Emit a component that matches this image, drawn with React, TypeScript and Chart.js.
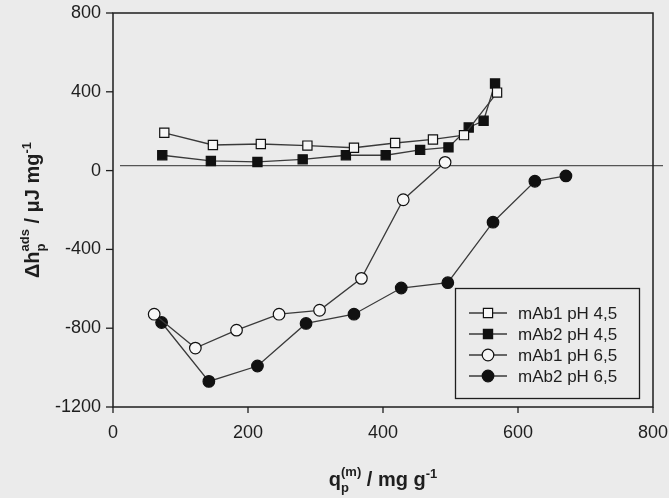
import React, { useEffect, useRef } from "react";
import { Chart, registerables } from "chart.js";
Chart.register(...registerables);

const X_TICKS = [0, 200, 400, 600, 800];
const Y_TICKS = [-1200, -800, -400, 0, 400, 800];

const MAB1_PH45_X = [76, 148, 219, 288, 357, 418, 474, 520, 569];
const MAB1_PH45_Y = [192, 130, 135, 127, 116, 140, 158, 180, 396];
const MAB2_PH45_X = [73, 145, 214, 281, 345, 404, 455, 497, 527, 549, 566];
const MAB2_PH45_Y = [78, 49, 44, 57, 78, 78, 105, 118, 219, 253, 442];
const MAB1_PH65_X = [61, 122, 183, 246, 306, 368, 430, 492];
const MAB1_PH65_Y = [-729, -901, -810, -729, -709, -547, -148, 42];
const MAB2_PH65_X = [72, 142, 214, 286, 357, 427, 496, 563, 625, 671];
const MAB2_PH65_Y = [-771, -1070, -992, -776, -729, -596, -569, -262, -54, -27];
const REF_LINE_Y = 25;

const SERIES_LABELS = ["mAb1 pH 4,5", "mAb2 pH 4,5", "mAb1 pH 6,5", "mAb2 pH 6,5"];
const SERIES_X = [MAB1_PH45_X, MAB2_PH45_X, MAB1_PH65_X, MAB2_PH65_X];
const SERIES_Y = [MAB1_PH45_Y, MAB2_PH45_Y, MAB1_PH65_Y, MAB2_PH65_Y];
const SERIES_SHAPE = ["rect", "rect", "circle", "circle"];
const SERIES_FILLED = [false, true, false, true];

const FONT = "'Liberation Sans', Arial, sans-serif";
const BG = "#ebebeb";
const INK = "#1e1e1e";
const LINE = "#3a3a3a";
const OPEN_FILL = "#f7f7f7";
const RECT_R = 6.5;
const CIRC_R = 5.8;

type Part = { t: string; size: number; dy: number; stack?: boolean };

function drawParts(ctx: CanvasRenderingContext2D, parts: Part[], cx: number, y: number) {
  let total = 0;
  let pending = 0;
  for (const p of parts) {
    ctx.font = `bold ${p.size}px ${FONT}`;
    const w = ctx.measureText(p.t).width;
    if (p.stack) {
      pending = Math.max(pending, w);
    } else {
      total += Math.max(pending, w);
      pending = 0;
    }
  }
  let x = cx - total / 2;
  pending = 0;
  for (const p of parts) {
    ctx.font = `bold ${p.size}px ${FONT}`;
    const w = ctx.measureText(p.t).width;
    ctx.fillText(p.t, x, y + p.dy);
    if (p.stack) {
      pending = Math.max(pending, w);
    } else {
      x += Math.max(pending, w);
      pending = 0;
    }
  }
}

function drawMarker(ctx: CanvasRenderingContext2D, shape: string, filled: boolean, x: number, y: number) {
  ctx.save();
  ctx.fillStyle = filled ? "#111" : OPEN_FILL;
  ctx.strokeStyle = "#111";
  ctx.lineWidth = 1.2;
  ctx.beginPath();
  if (shape === "rect") {
    const s = RECT_R * Math.SQRT1_2;
    ctx.rect(x - s, y - s, 2 * s, 2 * s);
  } else {
    ctx.arc(x, y, CIRC_R, 0, Math.PI * 2);
  }
  ctx.fill();
  ctx.stroke();
  ctx.restore();
}

const decorPlugin = {
  id: "decor",
  beforeDatasetsDraw(chart: any) {
    const { ctx, chartArea, scales } = chart;
    const y = scales.y.getPixelForValue(REF_LINE_Y);
    ctx.save();
    ctx.strokeStyle = "#555";
    ctx.lineWidth = 1.2;
    ctx.beginPath();
    ctx.moveTo(chartArea.left + 7, y);
    ctx.lineTo(chartArea.right + 10, y);
    ctx.stroke();
    ctx.restore();
  },
  afterDraw(chart: any) {
    const { ctx, chartArea, scales } = chart;
    const { left, right, top, bottom } = chartArea;
    ctx.save();
    ctx.strokeStyle = INK;
    ctx.lineWidth = 1.5;
    ctx.strokeRect(left, top, right - left, bottom - top);
    ctx.lineWidth = 1.3;
    for (const v of Y_TICKS) {
      const py = scales.y.getPixelForValue(v);
      ctx.beginPath();
      ctx.moveTo(left - 7, py);
      ctx.lineTo(left, py);
      ctx.stroke();
    }
    for (const v of X_TICKS) {
      const px = scales.x.getPixelForValue(v);
      ctx.beginPath();
      ctx.moveTo(px, bottom);
      ctx.lineTo(px, bottom + 6);
      ctx.stroke();
    }
    // legend
    const bx = 455, by = 288, bw = 184, bh = 110;
    ctx.fillStyle = BG;
    ctx.fillRect(bx, by, bw, bh);
    ctx.strokeStyle = INK;
    ctx.lineWidth = 1.3;
    ctx.strokeRect(bx + 0.5, by + 0.5, bw, bh);
    SERIES_LABELS.forEach((lab, i) => {
      const ly = 313 + i * 21;
      ctx.strokeStyle = LINE;
      ctx.lineWidth = 1.3;
      ctx.beginPath();
      ctx.moveTo(469, ly);
      ctx.lineTo(507, ly);
      ctx.stroke();
      drawMarker(ctx, SERIES_SHAPE[i], SERIES_FILLED[i], 488, ly);
      ctx.fillStyle = INK;
      ctx.font = `17px ${FONT}`;
      ctx.textAlign = "left";
      ctx.textBaseline = "middle";
      ctx.fillText(lab, 518, ly + 1);
    });
    // axis titles
    ctx.fillStyle = INK;
    ctx.textAlign = "left";
    ctx.textBaseline = "alphabetic";
    drawParts(
      ctx,
      [
        { t: "q", size: 20, dy: 0 },
        { t: "p", size: 13, dy: 6, stack: true },
        { t: "(m)", size: 13, dy: -10 },
        { t: " / mg g", size: 20, dy: 0 },
        { t: "-1", size: 13, dy: -8 },
      ],
      (left + right) / 2,
      486
    );
    ctx.save();
    ctx.translate(39, (top + bottom) / 2);
    ctx.rotate(-Math.PI / 2);
    drawParts(
      ctx,
      [
        { t: "\u0394h", size: 20, dy: 0 },
        { t: "p", size: 13, dy: 6, stack: true },
        { t: "ads", size: 13, dy: -10 },
        { t: " / \u03bcJ mg", size: 20, dy: 0 },
        { t: "-1", size: 13, dy: -8 },
      ],
      0,
      0
    );
    ctx.restore();
    ctx.restore();
  },
};

export default function App() {
  const ref = useRef<HTMLCanvasElement>(null);
  useEffect(() => {
    if (!ref.current) return;
    const datasets = SERIES_LABELS.map((lab, i) => ({
      label: lab,
      data: SERIES_X[i].map((x, j) => ({ x, y: SERIES_Y[i][j] })),
      borderColor: LINE,
      borderWidth: 1.3,
      pointStyle: SERIES_SHAPE[i],
      pointRadius: SERIES_SHAPE[i] === "rect" ? RECT_R : CIRC_R,
      pointBackgroundColor: SERIES_FILLED[i] ? "#111" : OPEN_FILL,
      pointBorderColor: "#111",
      pointBorderWidth: 1.2,
      showLine: true,
      fill: false,
      tension: 0,
    }));
    const chart = new Chart(ref.current, {
      type: "scatter",
      data: { datasets } as any,
      options: {
        animation: false,
        responsive: false,
        devicePixelRatio: 1,
        layout: { padding: { top: 13, right: 16, left: 0, bottom: 0 } },
        plugins: { legend: { display: false }, tooltip: { enabled: false } },
        scales: {
          x: {
            type: "linear",
            min: 0,
            max: 800,
            afterBuildTicks: (s: any) => {
              s.ticks = X_TICKS.map((v) => ({ value: v }));
            },
            afterFit: (s: any) => {
              s.height = 91;
              s.paddingLeft = 0;
              s.paddingRight = 0;
            },
            grid: { display: false, drawTicks: false },
            border: { display: false },
            ticks: {
              padding: 15,
              color: INK,
              font: { size: 18, family: FONT },
              maxRotation: 0,
              autoSkip: false,
              callback: (v: any) => String(v),
            },
          },
          y: {
            type: "linear",
            min: -1200,
            max: 800,
            afterBuildTicks: (s: any) => {
              s.ticks = Y_TICKS.map((v) => ({ value: v }));
            },
            afterFit: (s: any) => {
              s.width = 113;
              s.paddingTop = 0;
              s.paddingBottom = 0;
            },
            grid: { display: false, drawTicks: false },
            border: { display: false },
            ticks: {
              padding: 12,
              color: INK,
              font: { size: 18, family: FONT },
              autoSkip: false,
              callback: (v: any) => String(v),
            },
          },
        },
      } as any,
      plugins: [decorPlugin],
    });
    return () => chart.destroy();
  }, []);
  return (
    <div style={{ position: "fixed", left: 0, top: 0, width: 669, height: 498, background: BG }}>
      <canvas ref={ref} width={669} height={498} style={{ display: "block" }} />
    </div>
  );
}
